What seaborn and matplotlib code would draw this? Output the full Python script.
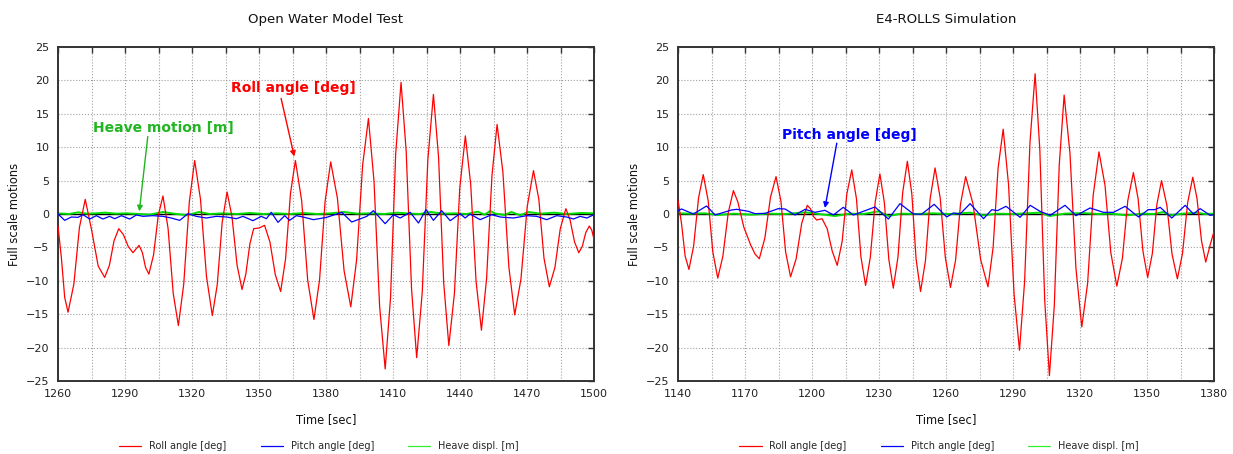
import matplotlib
matplotlib.use("Agg")
import matplotlib.pyplot as plt
import seaborn as sns
import numpy as np
from matplotlib.lines import Line2D

# ---- Open Water Model Test (left panel) ----
left_roll_t = [1260.0, 1261.5, 1263.0, 1264.5, 1267.1, 1269.6, 1272.2, 1275.1, 1278.0, 1280.9,
               1283.0, 1285.1, 1287.2, 1289.3, 1291.5, 1293.6, 1295.0, 1296.3, 1297.8, 1299.2,
               1300.7, 1302.8, 1304.9, 1307.0, 1309.3, 1311.6, 1313.9, 1316.3, 1318.8, 1321.2,
               1323.8, 1326.5, 1329.1, 1331.3, 1333.5, 1335.7, 1337.9, 1340.2, 1342.4, 1344.1,
               1345.9, 1347.6, 1350.0, 1352.5, 1354.9, 1357.3, 1359.7, 1361.9, 1364.1, 1366.3,
               1369.1, 1371.8, 1374.6, 1377.1, 1379.6, 1382.1, 1385.1, 1388.1, 1391.1, 1393.7,
               1396.4, 1399.0, 1401.5, 1404.0, 1406.5, 1408.9, 1411.2, 1413.6, 1415.9, 1418.3,
               1420.6, 1423.1, 1425.6, 1428.1, 1430.4, 1432.7, 1435.0, 1437.5, 1439.9, 1442.4,
               1444.8, 1447.2, 1449.6, 1451.9, 1454.3, 1456.6, 1459.2, 1461.9, 1464.5, 1467.3,
               1470.1, 1472.9, 1475.3, 1477.6, 1480.0, 1482.5, 1484.9, 1487.4, 1489.3, 1491.3,
               1493.2, 1494.8, 1496.3, 1497.9, 1499.0, 1500.0]
left_roll = [-1.8, -6.5, -12.5, -14.7, -10.5, -2.0, 2.2, -2.5, -7.8, -9.5,
             -7.7, -4.0, -2.2, -3.1, -4.9, -5.8, -5.2, -4.7, -5.8, -8.0,
             -9.0, -6.1, -0.2, 2.7, -2.2, -11.9, -16.7, -10.5, 1.8, 8.0,
             2.2, -9.4, -15.2, -10.6, -1.3, 3.3, -0.4, -7.7, -11.3, -9.0,
             -4.5, -2.2, -2.1, -1.7, -4.2, -9.1, -11.6, -6.7, 3.1, 8.0,
             2.0, -9.9, -15.8, -9.9, 1.9, 7.8, 2.4, -8.5, -13.9, -6.9,
             7.3, 14.3, 4.9, -13.8, -23.2, -12.5, 9.0, 19.7, 9.4, -11.2,
             -21.5, -11.7, 8.1, 17.9, 8.5, -10.3, -19.7, -11.9, 3.9, 11.7,
             4.4, -10.1, -17.4, -9.7, 5.7, 13.4, 6.3, -8.0, -15.1, -9.7,
             1.1, 6.5, 2.2, -6.6, -10.9, -8.0, -2.2, 0.8, -0.9, -4.2,
             -5.8, -4.8, -2.8, -1.8, -2.4, -3.8]

left_pitch_t = [1260, 1263, 1266, 1269, 1271.2, 1274.2, 1277.2, 1280.1, 1283.1, 1285.4,
                1288.4, 1292.1, 1295.1, 1298.1, 1302.5, 1307, 1310.7, 1314.5, 1318.2, 1321.9,
                1326.4, 1330.9, 1335.4, 1339.9, 1342.8, 1347.3, 1351, 1353.3, 1355.5, 1358.5,
                1361.5, 1363.7, 1366.7, 1369.7, 1374.4, 1380.3, 1387.1, 1391.5, 1398.3, 1401.2,
                1406.5, 1410.2, 1413.2, 1417.7, 1421.4, 1424.8, 1428.1, 1431.8, 1435.6, 1440,
                1442.3, 1444.5, 1449, 1454.2, 1458, 1463.9, 1469.9, 1474.4, 1478.8, 1483.3,
                1487.8, 1490.8, 1493.8, 1496.8, 1500]
left_pitch = [0.0, -0.95, -0.45, -0.5, -0.1, -0.75, -0.25, -0.75, -0.35, -0.7,
              -0.25, -0.75, -0.15, -0.35, -0.25, -0.35, -0.6, -0.95, 0.05, -0.35,
              -0.6, -0.35, -0.45, -0.7, -0.35, -1.0, -0.35, -0.7, 0.25, -1.25,
              -0.25, -0.95, -0.25, -0.45, -0.85, -0.5, 0.25, -1.2, -0.35, 0.5,
              -1.45, -0.1, -0.6, 0.25, -1.35, 0.65, -0.95, 0.5, -1.0, 0.05,
              -0.6, 0.0, -0.85, -0.1, -0.45, -0.6, -0.25, -0.35, -0.85, -0.25,
              -0.45, -0.75, -0.35, -0.6, -0.1]

left_heave_t = [1260, 1265, 1269, 1273, 1277, 1281, 1286, 1291, 1296, 1301,
                1307, 1312, 1318, 1323, 1328, 1334, 1340, 1346, 1352, 1358,
                1364, 1370, 1376, 1382, 1388, 1394, 1400, 1406, 1412, 1418,
                1422, 1427, 1432, 1438, 1443, 1448, 1451, 1453.5, 1456, 1460,
                1463, 1467, 1470.5, 1476, 1482, 1488, 1494, 1500]
left_heave = [0.1, 0.0, 0.25, 0.05, 0.1, 0.2, 0.05, 0.1, 0.0, -0.1,
              0.3, 0.05, -0.2, 0.3, 0.0, 0.1, 0.0, 0.15, 0.0, 0.1,
              0.0, 0.15, 0.0, 0.1, 0.3, 0.05, 0.1, 0.0, 0.2, 0.05,
              0.0, 0.3, 0.05, 0.1, 0.0, 0.35, -0.1, 0.45, 0.05, -0.15,
              0.3, -0.2, 0.3, 0.05, 0.2, 0.0, 0.15, 0.1]

# ---- E4-ROLLS Simulation (right panel) ----
right_roll_t = [1140.0, 1141.6, 1143.2, 1144.9, 1147.0, 1149.2, 1151.3, 1153.5, 1155.6, 1157.8,
                1160.1, 1162.5, 1164.8, 1166.8, 1169.5, 1172.5, 1174.5, 1176.4, 1178.9, 1181.4,
                1183.9, 1186.1, 1188.2, 1190.4, 1192.9, 1195.4, 1197.9, 1199.3, 1200.7, 1202.1,
                1203.3, 1204.5, 1206.8, 1209.0, 1211.3, 1213.5, 1215.6, 1217.8, 1219.9, 1221.9,
                1224.0, 1226.1, 1228.3, 1230.4, 1232.4, 1234.4, 1236.4, 1238.5, 1240.6, 1242.7,
                1244.7, 1246.6, 1248.6, 1250.8, 1252.9, 1255.1, 1257.4, 1259.7, 1262.0, 1264.3,
                1266.5, 1268.8, 1272.1, 1275.5, 1278.8, 1281.1, 1283.3, 1285.6, 1288.0, 1290.5,
                1292.9, 1295.2, 1297.6, 1299.9, 1302.0, 1304.2, 1306.3, 1308.5, 1310.7, 1312.9,
                1315.5, 1318.2, 1320.8, 1323.4, 1325.9, 1328.5, 1331.2, 1333.8, 1336.5, 1339.0,
                1341.4, 1343.9, 1346.0, 1348.2, 1350.3, 1352.4, 1354.4, 1356.5, 1358.9, 1361.2,
                1363.6, 1365.9, 1368.2, 1370.5, 1372.4, 1374.4, 1376.3, 1378.3, 1380.0]
right_roll = [2.1, -1.5, -6.3, -8.3, -4.8, 2.4, 5.9, 2.0, -5.7, -9.6,
              -6.3, 0.2, 3.5, 1.8, -2.0, -4.6, -6.0, -6.7, -3.6, 2.5,
              5.6, 1.9, -5.7, -9.4, -6.7, -1.4, 1.3, 0.8, -0.4, -0.9,
              -0.8, -0.7, -2.2, -5.5, -7.7, -4.1, 3.0, 6.6, 2.3, -6.4,
              -10.7, -6.5, 1.8, 6.0, 1.7, -6.8, -11.1, -6.4, 3.2, 7.9,
              3.0, -6.7, -11.6, -7.0, 2.3, 6.9, 2.4, -6.5, -11.0, -6.9,
              1.5, 5.6, 1.5, -6.8, -10.9, -5.0, 6.8, 12.7, 4.4, -12.1,
              -20.4, -10.1, 10.7, 21.0, 9.7, -12.9, -24.2, -13.7, 7.3, 17.8,
              9.1, -8.2, -16.9, -10.4, 2.8, 9.3, 4.3, -5.8, -10.8, -6.6,
              2.0, 6.2, 2.3, -5.6, -9.5, -5.9, 1.4, 5.0, 1.3, -6.0,
              -9.7, -5.9, 1.7, 5.5, 2.3, -4.0, -7.2, -4.6, -2.6]

right_pitch_t = [1140, 1141.6, 1146.9, 1152.8, 1156.6, 1160, 1164, 1166.3, 1171.5, 1174.5,
                 1179, 1184.9, 1187.9, 1192.4, 1196.9, 1201.3, 1205.8, 1209.6, 1214, 1218.5,
                 1223, 1228.2, 1234.2, 1239.4, 1245.4, 1249, 1254.7, 1260.3, 1263.3, 1266.3,
                 1270.8, 1276.8, 1280.5, 1283, 1286.9, 1293.2, 1297.7, 1302.1, 1306.6, 1313.3,
                 1318.2, 1324.5, 1330.5, 1335, 1340.2, 1346.2, 1350.6, 1353.6, 1355.9, 1361.1,
                 1367.1, 1370.8, 1373.8, 1378.3, 1380]
right_pitch = [0.5, 0.75, 0.0, 1.2, -0.15, 0.2, 0.6, 0.7, 0.4, 0.05,
               0.1, 0.8, 0.75, -0.15, 0.7, 0.25, 0.55, -0.15, 1.0, -0.15,
               0.4, 1.05, -0.75, 1.55, 0.0, -0.05, 1.45, -0.45, 0.15, 0.0,
               1.55, -0.7, 0.65, 0.5, 1.15, -0.5, 1.3, 0.4, -0.2, 1.3,
               -0.25, 0.9, 0.25, 0.25, 1.15, -0.45, 0.65, 0.65, 1.0, -0.6,
               1.3, 0.0, 0.8, -0.2, -0.1]

right_heave_t = [1140, 1146, 1152, 1158, 1165, 1173, 1180, 1188, 1196.9, 1203,
                 1210.3, 1217, 1223, 1229.7, 1234.2, 1240, 1247, 1254, 1262, 1270.7,
                 1276.7, 1283, 1290, 1296, 1302, 1306.5, 1313, 1321.5, 1328, 1334,
                 1340.9, 1348, 1353, 1357.3, 1360.3, 1366, 1372.2, 1376, 1380]
right_heave = [0.1, 0.05, 0.1, -0.15, 0.05, -0.1, 0.05, 0.0, 0.25, 0.0,
               -0.3, 0.05, 0.0, 0.4, -0.3, 0.05, 0.0, 0.1, 0.0, 0.2,
               -0.2, 0.05, 0.0, 0.1, 0.2, -0.3, 0.05, 0.15, 0.0, 0.05,
               -0.2, 0.05, 0.0, 0.3, -0.2, 0.05, 0.2, 0.0, 0.05]

titles = ["Open Water Model Test", "E4-ROLLS Simulation"]
legend_labels = ["Roll angle [deg]", "Pitch angle [deg]", "Heave displ. [m]"]
y_ticks = list(range(-25, 26, 5))

RED, BLUE, GREEN = "#ff0000", "#0000ff", "#00dd00"
AX_COL = "#333333"

sns.set_style("white")
plt.rcParams["font.family"] = ["DejaVu Sans"]

fig = plt.figure(figsize=(12.33, 4.54), dpi=100)
ax_left = fig.add_axes([58 / 1233, 1 - 381 / 454, 536 / 1233, 334 / 454])
ax_right = fig.add_axes([678 / 1233, 1 - 381 / 454, 536 / 1233, 334 / 454])

panels = [
    (ax_left, left_roll_t, left_roll, left_pitch_t, left_pitch, left_heave_t, left_heave, 1260, 1500),
    (ax_right, right_roll_t, right_roll, right_pitch_t, right_pitch, right_heave_t, right_heave, 1140, 1380),
]

for (ax, rt, rv, pt, pv, ht, hv, x0, x1), title in zip(panels, titles):
    ax.axhline(0, color="black", lw=1.0, zorder=1)
    sns.lineplot(x=rt, y=rv, ax=ax, color=RED, lw=0.9, zorder=3)
    sns.lineplot(x=pt, y=pv, ax=ax, color=BLUE, lw=0.9, zorder=4)
    sns.lineplot(x=ht, y=hv, ax=ax, color=GREEN, lw=1.4, zorder=2)

    ax.set_xlim(x0, x1)
    ax.set_ylim(-25, 25)
    xt = list(range(x0, x1 + 1, 15))
    ax.set_xticks(xt)
    ax.set_xticklabels([str(v) if (v - x0) % 30 == 0 else "" for v in xt])
    ax.set_yticks(y_ticks)
    ax.grid(True, color="#a0a0a0", linestyle=":", lw=0.8)
    ax.tick_params(direction="in", top=True, right=True, length=4, width=1,
                   color=AX_COL, labelsize=8, labelcolor="#222222", pad=6)
    for sp in ax.spines.values():
        sp.set_color(AX_COL)
        sp.set_linewidth(1.4)
    ax.set_title(title, fontsize=9.6, pad=17, color="#111111")
    ax.set_xlabel("Time [sec]", fontsize=8.3, labelpad=10, color="#111111")
    ax.set_ylabel("Full scale motions", fontsize=8.3, labelpad=4, color="#111111")

    handles = [Line2D([0], [0], color=c, lw=0.9) for c in (RED, BLUE, "#33ee33")]
    bb = ax.get_position()
    fig.legend(handles=handles, labels=legend_labels, loc="center",
               bbox_to_anchor=(bb.x0 + bb.width / 2 - 7 / 1233, 1 - 446 / 454),
               ncol=3, frameon=False, fontsize=7, handlelength=2.3,
               handletextpad=0.8, columnspacing=3.5)

# labels with separate arrows (arrow tail sits below-left of the text)
labels = [
    (ax_left, "Roll angle [deg]", RED, (1365.2, 18.9), (1359.9, 17.3), (1365.8, 8.6)),
    (ax_left, "Heave motion [m]", "#22b522", (1307.0, 12.9), (1300.2, 11.6), (1296.4, 0.4)),
    (ax_right, "Pitch angle [deg]", BLUE, (1216.6, 11.8), (1211.1, 10.6), (1205.8, 0.9)),
]
for ax, txt, col, tpos, tail, tip in labels:
    ax.text(tpos[0], tpos[1], txt, color=col, fontsize=10, fontweight="bold",
            ha="center", va="center", zorder=6)
    ax.annotate("", xy=tip, xytext=tail,
                arrowprops=dict(arrowstyle="-|>", color=col, lw=1.0,
                                shrinkA=0, shrinkB=0, mutation_scale=8), zorder=6)

fig.savefig("out.png", dpi=100)
